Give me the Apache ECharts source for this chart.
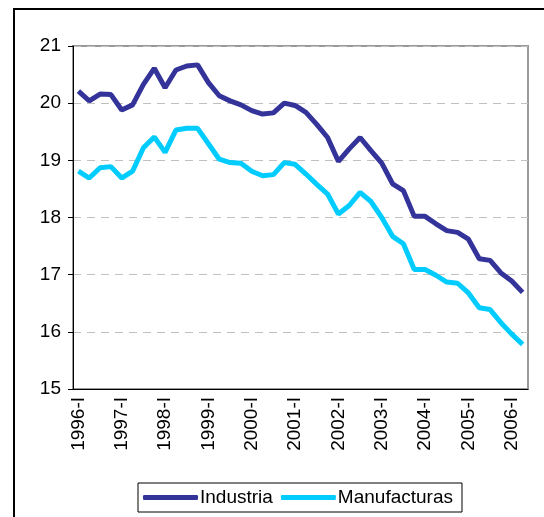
<!DOCTYPE html>
<html>
<head>
<meta charset="utf-8">
<script src="https://cdn.jsdelivr.net/npm/echarts@6/dist/echarts.min.js"></script>
<style>
  html, body { margin: 0; padding: 0; background: #fff; }
  #chart { width: 544px; height: 517px; }
</style>
</head>
<body>
<div id="chart"></div>
<script>
// trimestres 1996-I .. 2006-II
var years = [1996, 1997, 1998, 1999, 2000, 2001, 2002, 2003, 2004, 2005, 2006];
var quarters = ["I", "II", "III", "IV"];
var categories = [];
years.forEach(function (y) {
    quarters.forEach(function (q) {
        if (y === 2006 && (q === "III" || q === "IV")) return;
        categories.push(y + "-" + q);
    });
});

var industria = [
    20.21, 20.04, 20.16, 20.15, 19.88, 19.97, 20.33, 20.61, 20.27, 20.58,
    20.65, 20.67, 20.36, 20.13, 20.04, 19.97, 19.87, 19.81, 19.83, 20.00,
    19.96, 19.84, 19.63, 19.40, 18.98, 19.20, 19.40, 19.17, 18.95, 18.59,
    18.47, 18.02, 18.02, 17.89, 17.77, 17.74, 17.62, 17.28, 17.25, 17.03,
    16.89, 16.69
];
var manufacturas = [
    18.81, 18.69, 18.87, 18.89, 18.69, 18.81, 19.22, 19.41, 19.14, 19.53,
    19.56, 19.56, 19.29, 19.02, 18.96, 18.95, 18.81, 18.73, 18.75, 18.96,
    18.93, 18.76, 18.58, 18.41, 18.06, 18.21, 18.44, 18.28, 18.00, 17.67,
    17.54, 17.09, 17.09, 16.99, 16.87, 16.85, 16.68, 16.42, 16.39, 16.16,
    15.96, 15.78
];

var font = "'Liberation Sans', Arial, sans-serif";

var option = {
    animation: false,
    graphic: [{
        type: "rect",
        shape: { x: 14, y: 9, width: 700, height: 700 },
        style: { fill: null, stroke: "#000", lineWidth: 2 },
        silent: true
    }],
    grid: {
        left: 73, top: 46, right: 16, bottom: 128,
        show: true, borderColor: "#999", borderWidth: 2
    },
    legend: {
        left: 138, top: 483,
        padding: [5, 9, 5, 5],
        borderColor: "#000", borderWidth: 1,
        itemGap: 8,
        itemWidth: 55, itemHeight: 5,
        icon: "roundRect",
        textStyle: { fontFamily: font, fontSize: 19, color: "#000", padding: [0, 0, 0, -3] },
        data: ["Industria", "Manufacturas"]
    },
    xAxis: {
        type: "category",
        data: categories,
        boundaryGap: true,
        axisLine: { lineStyle: { color: "#000", width: 1 } },
        axisTick: { interval: 0, length: 5, lineStyle: { color: "#000" } },
        axisLabel: {
            interval: 3, rotate: 90, margin: 8,
            fontFamily: font, fontSize: 19, color: "#000"
        },
        splitLine: { show: false }
    },
    yAxis: {
        type: "value",
        min: 15, max: 21, interval: 1,
        axisLine: { show: true, lineStyle: { color: "#000", width: 1 } },
        axisTick: { show: true, length: 5, lineStyle: { color: "#000" } },
        axisLabel: { fontFamily: font, fontSize: 19, color: "#000", margin: 12 },
        splitLine: { lineStyle: { color: "#c0c0c0", type: [8, 6], width: 1 } }
    },
    series: [
        {
            name: "Industria", type: "line", data: industria,
            showSymbol: false, symbol: "none",
            lineStyle: { color: "#333399", width: 5 },
            itemStyle: { color: "#333399" }
        },
        {
            name: "Manufacturas", type: "line", data: manufacturas,
            showSymbol: false, symbol: "none",
            lineStyle: { color: "#00ccff", width: 5 },
            itemStyle: { color: "#00ccff" }
        }
    ]
};

var chart = echarts.init(document.getElementById("chart"));
chart.setOption(option);
</script>
</body>
</html>
